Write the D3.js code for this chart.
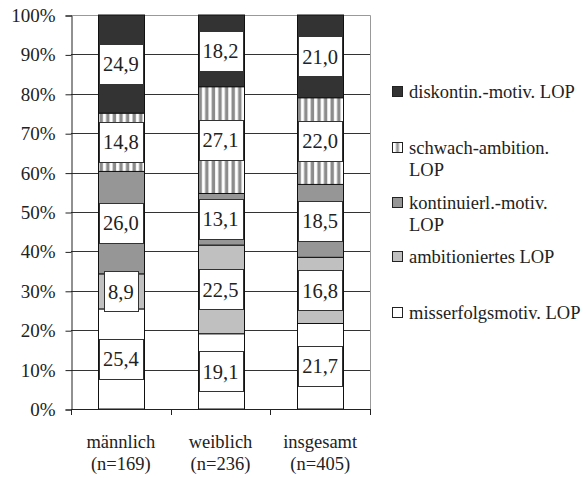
<!DOCTYPE html>
<html><head>
<meta charset="utf-8">
<script src="https://cdn.jsdelivr.net/npm/d3@7"></script>
<style>
  body { margin: 0; background: #fff; }
  svg text { font-family: "Times New Roman", Times, "Liberation Serif", "DejaVu Serif", serif; fill: #222; }
  .grid line { stroke: #333; stroke-width: 1; }
  .frame { stroke: #999; stroke-width: 1; fill: none; }
  .seg { stroke: #111; stroke-width: 1; }
  .lbl rect { fill: #fff; stroke: #333; stroke-width: 1; }
</style>
</head>
<body>
<svg id="chart" width="588" height="478"></svg>
<script>
// data (percent, bottom -> top)
var categories = ["männlich", "weiblich", "insgesamt"];
var sampleSizes = ["(n=169)", "(n=236)", "(n=405)"];
var seriesKeys = ["misserfolg", "ambitioniert", "kontinuierl", "schwach", "diskontin"];
var legendLabels = [
  ["misserfolgsmotiv. LOP"],
  ["ambitioniertes LOP"],
  ["kontinuierl.-motiv.", "LOP"],
  ["schwach-ambition.", "LOP"],
  ["diskontin.-motiv. LOP"]
];
var misserfolg   = [25.4, 19.1, 21.7];
var ambitioniert = [8.9, 22.5, 16.8];
var kontinuierl  = [26.0, 13.1, 18.5];
var schwach      = [14.8, 27.1, 22.0];
var diskontin    = [24.9, 18.2, 21.0];
var yTicks = [0, 10, 20, 30, 40, 50, 60, 70, 80, 90, 100];

var seriesValues = { misserfolg: misserfolg, ambitioniert: ambitioniert,
  kontinuierl: kontinuierl, schwach: schwach, diskontin: diskontin };

var rows = categories.map(function(c, i) {
  var r = { cat: c };
  seriesKeys.forEach(function(k) { r[k] = seriesValues[k][i]; });
  return r;
});

var fills = {
  misserfolg: "#ffffff",
  ambitioniert: "#c0c0c0",
  kontinuierl: "#969696",
  schwach: "url(#stripes)",
  diskontin: "#333333"
};

var svg = d3.select("#chart");
svg.append("rect").attr("width", 588).attr("height", 478).attr("fill", "#fff");

var defs = svg.append("defs");
var pat = defs.append("pattern").attr("id", "stripes")
  .attr("patternUnits", "userSpaceOnUse").attr("width", 6.6).attr("height", 10);
pat.append("rect").attr("width", 6.6).attr("height", 10).attr("fill", "#fff");
pat.append("rect").attr("x", 0.5).attr("width", 3.4).attr("height", 10).attr("fill", "#8c8c8c");

var lp = defs.append("pattern").attr("id", "legstripe")
  .attr("patternUnits", "userSpaceOnUse").attr("x", 392.5).attr("width", 10).attr("height", 10);
lp.append("rect").attr("width", 10).attr("height", 10).attr("fill", "#fff");
lp.append("rect").attr("x", 3.5).attr("width", 3).attr("height", 10).attr("fill", "#999");

var plotL = 71, plotR = 370, plotT = 15, plotB = 409;

var x = d3.scaleBand().domain(categories).range([plotL, plotR]).padding(0);
var y = d3.scaleLinear().domain([0, 100]).range([plotB, plotT]);
var barW = 46;

// grid
svg.append("g").attr("class", "grid")
  .selectAll("line").data(yTicks.filter(function(t) { return t > 0 && t < 100; }))
  .join("line")
  .attr("x1", plotL).attr("x2", plotR)
  .attr("y1", function(d) { return Math.round(y(d)) + 0.5; })
  .attr("y2", function(d) { return Math.round(y(d)) + 0.5; });

// plot frame (top + right)
svg.append("path").attr("class", "frame")
  .attr("d", "M" + plotL + "," + (plotT + 0.5) + "H" + (plotR + 0.5) + "V" + (plotB + 0.5));

// bars
var stack = d3.stack().keys(seriesKeys);
var layers = stack(rows);

var barG = svg.append("g");
layers.forEach(function(layer) {
  barG.selectAll(null).data(layer).join("rect")
    .attr("class", "seg")
    .attr("x", function(d) { return Math.round(x(d.data.cat) + x.bandwidth() / 2 - barW / 2) + 0.5; })
    .attr("width", barW)
    .attr("y", function(d) { return y(d[1]); })
    .attr("height", function(d) { return y(d[0]) - y(d[1]); })
    .attr("fill", fills[layer.key]);
});

// value boxes
var fmt = function(v) { return v.toFixed(1).replace(".", ","); };
layers.forEach(function(layer) {
  layer.forEach(function(d) {
    var cx = x(d.data.cat) + x.bandwidth() / 2;
    var cy = (y(d[0]) + y(d[1])) / 2;
    var g = svg.append("g").attr("class", "lbl");
    var r = g.append("rect");
    var t = g.append("text")
      .attr("x", cx).attr("y", cy).attr("dy", "0.35em")
      .attr("text-anchor", "middle")
      .style("font-size", "20.5px")
      .text(fmt(d[1] - d[0]));
    var w = t.node().getComputedTextLength() + 8;
    r.attr("x", Math.round(cx - w / 2) + 0.5).attr("width", Math.round(w))
      .attr("y", Math.round(cy - 20) + 0.5).attr("height", 40);
  });
});

// y axis
var yAxis = d3.axisLeft(y).tickValues(yTicks).tickSize(6).tickPadding(10)
  .tickFormat(function(d) { return d + "%"; });
var yg = svg.append("g").attr("transform", "translate(" + (plotL + 0.5) + ",0.5)").call(yAxis);
yg.attr("font-family", null).attr("font-size", null);
yg.selectAll("text").style("font-size", "19px").attr("fill", "#222");
yg.selectAll("line, path").attr("stroke", "#222");

// x axis: line with ticks at band boundaries
var xg = svg.append("g");
xg.append("line").attr("x1", plotL).attr("x2", plotR + 1)
  .attr("y1", plotB + 0.5).attr("y2", plotB + 0.5).attr("stroke", "#222");
var bounds = categories.map(function(c) { return x(c); }).concat([plotR]);
xg.selectAll(".xt").data(bounds).join("line")
  .attr("x1", function(d) { return Math.round(d) + 0.5; })
  .attr("x2", function(d) { return Math.round(d) + 0.5; })
  .attr("y1", plotB).attr("y2", plotB + 6).attr("stroke", "#222");

xg.selectAll(".xl").data(categories).join("text")
  .attr("x", function(d) { return x(d) + x.bandwidth() / 2; })
  .attr("y", 448).attr("text-anchor", "middle").style("font-size", "18.5px")
  .text(function(d) { return d; });
xg.selectAll(".xn").data(sampleSizes).join("text")
  .attr("x", function(d, i) { return x(categories[i]) + x.bandwidth() / 2; })
  .attr("y", 470).attr("text-anchor", "middle").style("font-size", "18.5px")
  .text(function(d) { return d; });

// legend (top to bottom = reverse stack order)
var legendY = [92, 148, 203, 257, 313];
var legKeys = seriesKeys.slice().reverse();
var legLbls = legendLabels.slice().reverse();
legKeys.forEach(function(k, i) {
  var g = svg.append("g").attr("transform", "translate(0," + legendY[i] + ")");
  g.append("rect").attr("x", 392.5).attr("y", -5.5).attr("width", 10).attr("height", 10)
    .attr("fill", k === "schwach" ? "url(#legstripe)" : fills[k])
    .attr("stroke", "#222");
  legLbls[i].forEach(function(line, j) {
    g.append("text").attr("x", 409).attr("y", j * 22).attr("dy", "0.35em")
      .style("font-size", "18.5px").text(line);
  });
});
</script>
</body></html>
